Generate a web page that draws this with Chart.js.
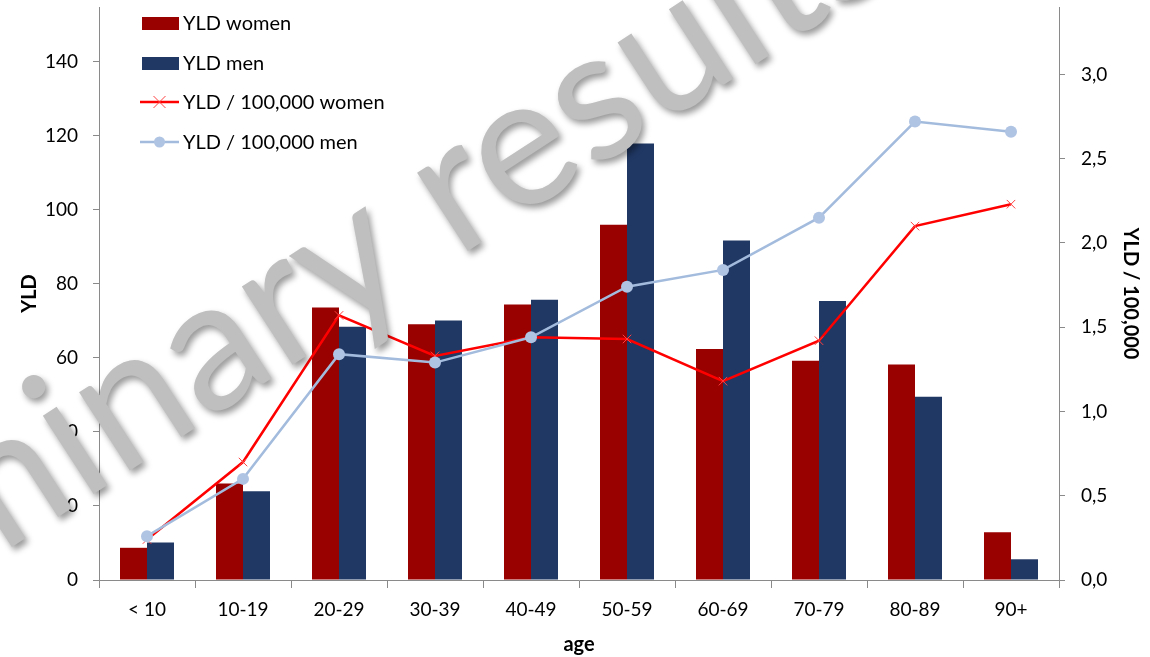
<!DOCTYPE html>
<html><head><meta charset="utf-8">
<script src="https://cdn.jsdelivr.net/npm/chart.js@4.4.1/dist/chart.umd.min.js"></script>
<style>html,body{margin:0;padding:0;background:#fff;} #wrap{width:1150px;height:657px;}</style>
</head><body><div id="wrap"><canvas id="c" width="1150" height="657"></canvas></div>
<script>
const categories = ['< 10', '10-19', '20-29', '30-39', '40-49', '50-59', '60-69', '70-79', '80-89', '90+'];
const yldWomen = [8.7, 26.1, 73.6, 69.1, 74.4, 96.0, 62.4, 59.2, 58.2, 12.9];
const yldMen = [10.1, 24.0, 68.4, 70.1, 75.7, 117.9, 91.7, 75.4, 49.5, 5.6];
const rateWomen = [0.24, 0.70, 1.57, 1.33, 1.44, 1.43, 1.18, 1.42, 2.10, 2.23];
const rateMen = [0.26, 0.60, 1.34, 1.29, 1.44, 1.74, 1.84, 2.15, 2.72, 2.66];
const leftTicks = [0, 20, 40, 60, 80, 100, 120, 140];
const rightTicks = [0, 0.5, 1.0, 1.5, 2.0, 2.5, 3.0];
const seriesLabels = ['YLD women', 'YLD men', 'YLD / 100,000 women', 'YLD / 100,000 men'];
const axisTitles = { x: 'age', y: 'YLD', y2: 'YLD / 100,000' };
const watermarkText = 'preliminary results';

const FONT = 'Lato';
const axisColor = '#8a8a8a';

const overlayPlugin = {
  id: 'overlay',
  afterDraw(chart) {
    const ctx = chart.ctx;
    const ds = chart.data.datasets;
    const rows = [23, 63, 102, 142];
    ctx.save();
    ds.forEach((d, i) => {
      const y = rows[i];
      if (d.type === 'line') {
        ctx.strokeStyle = d.borderColor;
        ctx.lineWidth = d.borderWidth;
        ctx.beginPath(); ctx.moveTo(140, y); ctx.lineTo(179, y); ctx.stroke();
        if (d.pointStyle === 'crossRot') {
          ctx.strokeStyle = d.pointBorderColor; ctx.lineWidth = 1;
          const r = 6;
          ctx.beginPath();
          ctx.moveTo(159.5 - r, y - r); ctx.lineTo(159.5 + r, y + r);
          ctx.moveTo(159.5 - r, y + r); ctx.lineTo(159.5 + r, y - r);
          ctx.stroke();
        } else {
          ctx.fillStyle = d.pointBackgroundColor;
          ctx.beginPath(); ctx.arc(159.5, y, 5.5, 0, Math.PI * 2); ctx.fill();
        }
      } else {
        ctx.fillStyle = d.backgroundColor;
        ctx.fillRect(142, y - 6, 37, 13);
      }
      ctx.fillStyle = '#000';
      ctx.font = '20px ' + FONT;
      ctx.textBaseline = 'middle';
      ctx.textAlign = 'left';
      ctx.fillText(d.label, 183, y + 1);
    });
    ctx.restore();

    // watermark
    ctx.save();
    const fs = 184;
    ctx.font = fs + 'px ' + FONT;
    const a = 33 * Math.PI / 180;
    const pre = ctx.measureText('preliminary ').width;
    const ox = 457 - pre * Math.cos(a);
    const oy = 258 + pre * Math.sin(a);
    ctx.translate(ox, oy);
    ctx.rotate(-a);
    ctx.shadowColor = 'rgba(0,0,0,0.4)';
    ctx.shadowBlur = 6;
    ctx.shadowOffsetX = 3;
    ctx.shadowOffsetY = 4;
    ctx.fillStyle = '#BFBFBF';
    ctx.textBaseline = 'alphabetic';
    ctx.textAlign = 'left';
    ctx.fillText(watermarkText, 0, 0);
    ctx.restore();
  }
};

const near = (v, list) => list.some(t => Math.abs(t - v) < 1e-9);

new Chart(document.getElementById('c'), {
  data: {
    labels: categories,
    datasets: [
      { type: 'bar', label: seriesLabels[0], data: yldWomen, backgroundColor: '#990000', yAxisID: 'y', order: 3,
        categoryPercentage: 0.5625, barPercentage: 1.0 },
      { type: 'bar', label: seriesLabels[1], data: yldMen, backgroundColor: '#203864', yAxisID: 'y', order: 3,
        categoryPercentage: 0.5625, barPercentage: 1.0 },
      { type: 'line', label: seriesLabels[2], data: rateWomen, yAxisID: 'y2', order: 2,
        borderColor: '#FF0000', borderWidth: 2.5, pointStyle: 'crossRot', pointRadius: 6,
        pointBorderColor: '#FF4040', pointBorderWidth: 1, pointBackgroundColor: '#FF0000', tension: 0 },
      { type: 'line', label: seriesLabels[3], data: rateMen, yAxisID: 'y2', order: 1,
        borderColor: '#A3BCDD', borderWidth: 2.5, pointStyle: 'circle', pointRadius: 6,
        pointBorderColor: '#AFC3E3', pointBorderWidth: 0, pointBackgroundColor: '#AFC3E3', tension: 0 }
    ]
  },
  options: {
    responsive: false,
    devicePixelRatio: 1,
    animation: false,
    layout: { padding: { top: 5, left: 0, right: 0, bottom: 0 } },
    plugins: { legend: { display: false }, tooltip: { enabled: false } },
    scales: {
      x: {
        type: 'category',
        offset: true,
        grid: { display: true, drawOnChartArea: false, drawTicks: true, tickLength: 8, color: axisColor, offset: true },
        border: { display: true, color: axisColor, width: 1 },
        ticks: { color: '#000', font: { family: FONT, size: 19 }, padding: 10, maxRotation: 0, autoSkip: false },
        title: { display: true, text: axisTitles.x, color: '#000', font: { family: FONT, size: 20, weight: 'bold' }, padding: { top: 0, bottom: 0 } },
        afterFit(s) { s.height = 77; s.paddingLeft = 0; s.paddingRight = 0; }
      },
      y: {
        position: 'left',
        min: 0, max: 154.8,
        grid: { display: true, drawOnChartArea: false, drawTicks: true, tickLength: 6, color: axisColor },
        border: { display: true, color: axisColor, width: 1 },
        ticks: { stepSize: 20, color: '#000', font: { family: FONT, size: 19 }, padding: 15 },
        afterBuildTicks(s) { s.ticks = s.ticks.filter(t => near(t.value, leftTicks)); },
        title: { display: true, text: axisTitles.y, color: '#000', font: { family: FONT, size: 20, weight: 'bold' }, padding: { top: 18, bottom: 0 } },
        afterFit(s) { s.width = 99; s.paddingTop = 0; s.paddingBottom = 0; }
      },
      y2: {
        position: 'right',
        min: 0, max: 3.4,
        grid: { display: true, drawOnChartArea: false, drawTicks: true, tickLength: 6, color: axisColor },
        border: { display: true, color: axisColor, width: 1 },
        ticks: { stepSize: 0.5, color: '#000', font: { family: FONT, size: 19 }, padding: 16,
          callback: v => Number(v).toFixed(1).replace('.', ',') },
        afterBuildTicks(s) { s.ticks = s.ticks.filter(t => near(t.value, rightTicks)); },
        title: { display: true, text: axisTitles.y2, color: '#000', font: { family: FONT, size: 20, weight: 'bold' }, padding: { top: 8, bottom: 0 } },
        afterFit(s) { s.width = 91; s.paddingTop = 0; s.paddingBottom = 0; }
      }
    }
  },
  plugins: [overlayPlugin]
});
</script>
</body></html>
